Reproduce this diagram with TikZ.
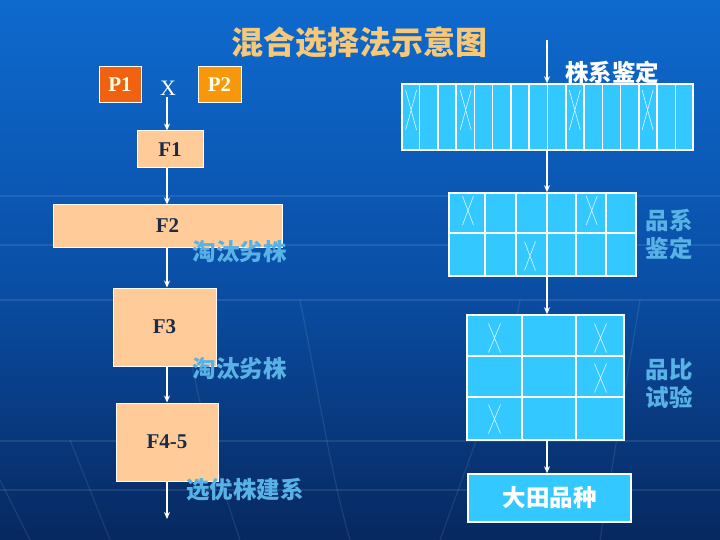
\documentclass[tikz,border=0pt]{standalone}
\usepackage{fontspec}
\setmainfont{Liberation Serif}
\newfontfamily\cjk{Noto Sans CJK SC}
\usetikzlibrary{arrows.meta,calc}
\definecolor{bgtop}{RGB}{14,106,206}
\definecolor{bgmid}{RGB}{10,80,168}
\definecolor{bgbot}{RGB}{7,40,96}
\definecolor{peach}{RGB}{255,204,153}
\definecolor{navy}{RGB}{28,42,70}
\definecolor{pone}{RGB}{240,98,15}
\definecolor{ptwo}{RGB}{247,152,12}
\definecolor{cell}{RGB}{51,200,255}
\definecolor{ltblue}{RGB}{88,178,230}
\definecolor{gold}{RGB}{246,200,120}
\begin{document}
\begin{tikzpicture}[x=1pt,y=-1pt,
  pbox/.style={draw=white, line width=1pt, inner sep=0pt, minimum width=42pt, minimum height=36pt,
    text=white!90!yellow, font=\fontsize{21}{21}\selectfont\bfseries},
  fbox/.style={draw=white, line width=1pt, fill=peach, inner sep=0pt, text=navy,
    font=\fontsize{21}{21}\selectfont\bfseries},
  grid/.style={draw=white, line width=1.5pt, fill=cell, inner sep=0pt},
  gline/.style={white, line width=1.5pt},
  xline/.style={white!85!cell, line width=0.6pt},
  arr/.style={white, line width=1.4pt, -{Stealth[length=7pt,width=6pt]}},
  cjklabel/.style={font=\cjk\bfseries\fontsize{23.5}{28}\selectfont, inner sep=0pt, align=center},
  faint/.style={white, opacity=0.09, line width=1.2pt}
]
% background
\shade[top color=bgtop, bottom color=bgbot, middle color=bgmid] (0,0) rectangle (720,540);
\useasboundingbox (0,0) rectangle (720,540);
\foreach \yy in {196,245,300,441,490} \draw[faint] (0,\yy) -- (720,\yy);
\draw[faint] (70,440) -- (110,540);
\draw[faint] (0,480) -- (30,540);
\draw[faint] (180,300) .. controls (200,420) and (220,480) .. (240,540);
\draw[faint] (480,430) -- (440,540);
\draw[faint] (520,300) -- (500,400);
\draw[faint] (640,300) -- (600,540);
\draw[faint] (300,300) .. controls (320,400) and (330,470) .. (350,540);

% title
\node[font=\cjk\bfseries\fontsize{32}{32}\selectfont, text=gold, inner sep=0pt] (title) at (359.5,42) {混合选择法示意图};

% left column
\node[pbox, fill=pone] (p1) at (120,85) {P1};
\node[pbox, fill=ptwo, minimum width=43pt] (p2) at (219.5,85) {P2};
\node[text=white, font=\fontsize{22}{22}\selectfont, inner sep=0pt] (x) at (168,88) {X};
\coordinate (lx) at (167,0);
\node[fbox, minimum width=66pt, minimum height=37pt] (f1) at (170,149.5) {F1};
\node[fbox, minimum width=229pt, minimum height=42pt] (f2) at (167.5,226) {F2};
\node[fbox, minimum width=103pt, minimum height=78pt] (f3) at (164.5,327) {F3};
\node[fbox, minimum width=102pt, minimum height=78pt] (f45) at (167,442) {F4-5};
\coordinate (lend) at (167,519);
\node[cjklabel, text=ltblue] (t1) at (239.5,252) {淘汰劣株};
\node[cjklabel, text=ltblue] (t2) at (239.5,369) {淘汰劣株};
\node[cjklabel, text=ltblue] (t3) at (245,490) {选优株建系};

\draw[arr] (x.south -| lx) ++(0,2) -- (f1.north -| lx);
\draw[arr] (f1.south -| lx) -- (f2.north -| lx);
\draw[arr] (f2.south -| lx) -- (f3.north -| lx);
\draw[arr] (f3.south -| lx) -- (f45.north -| lx);
\draw[arr] (f45.south -| lx) -- (lend);

% right column
\coordinate (ax) at (547,0);
\coordinate (astart) at (547,40);
\node[cjklabel, text=white] (lab1) at (612,72) {株系鉴定};

% grid 1
\node[grid, minimum width=291pt, minimum height=66pt] (g1) at (547.5,117) {};
\foreach \k in {1,...,15}
  \draw[gline] ($(g1.north west)!\k/16!(g1.north east)$) -- ($(g1.south west)!\k/16!(g1.south east)$);
\foreach \cx in {411.1,465.7,574.8,647.6}
  \draw[xline] (\cx-5.5,90) -- (\cx+5.5,130) (\cx+5.5,90) -- (\cx-5.5,130);

% grid 2
\node[grid, minimum width=187pt, minimum height=83pt] (g2) at (542.5,234.5) {};
\foreach \xx in {485,516,547,576,606}
  \draw[gline] (\xx,193) -- (\xx,276);
\draw[gline] (449,233) -- (636,233);
\foreach \cx/\cy in {468/210.5,591.7/210.5,530/256}
  \draw[xline] (\cx-5.5,\cy-14.5) -- (\cx+5.5,\cy+14.5) (\cx+5.5,\cy-14.5) -- (\cx-5.5,\cy+14.5);
\node[cjklabel, text=ltblue] (lab2) at (669,234) {品系\\鉴定};

% grid 3
\node[grid, minimum width=157pt, minimum height=125pt] (g3) at (545.5,377.5) {};
\foreach \xx in {522,576}
  \draw[gline] (\xx,315) -- (\xx,440);
\foreach \yy in {356,397}
  \draw[gline] (467,\yy) -- (624,\yy);
\foreach \cx/\cy in {494.5/338,600.5/338,600.5/378,494.5/419}
  \draw[xline] (\cx-6,\cy-14.5) -- (\cx+6,\cy+14.5) (\cx+6,\cy-14.5) -- (\cx-6,\cy+14.5);
\node[cjklabel, text=ltblue] (lab3) at (669,383.5) {品比\\试验};

% final
\node[grid, minimum width=163pt, minimum height=48pt, text=white, font=\cjk\bfseries\fontsize{23.5}{23.5}\selectfont] (fin) at (549.5,498) {大田品种};

\draw[arr] (astart) -- (g1.north -| ax);
\draw[arr] (g1.south -| ax) -- (g2.north -| ax);
\draw[arr] (g2.south -| ax) -- (g3.north -| ax);
\draw[arr] (g3.south -| ax) -- (fin.north -| ax);
\end{tikzpicture}
\end{document}
